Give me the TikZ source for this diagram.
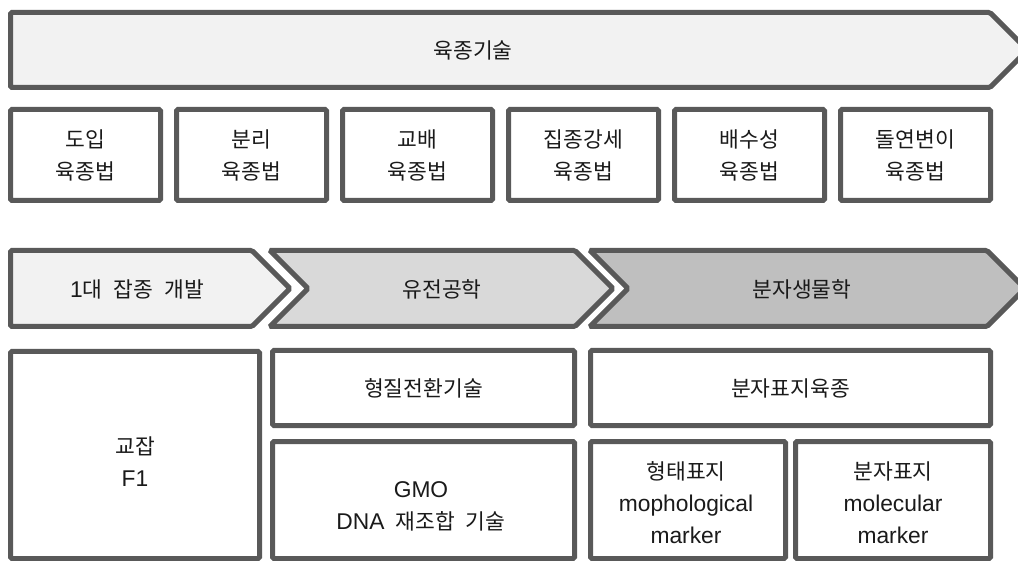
\documentclass[tikz,border=0pt]{standalone}
\usepackage{fontspec}
\setmainfont{Noto Sans CJK KR}
\newfontfamily\lat{Liberation Sans}[Scale=1.06]
\definecolor{edgegray}{HTML}{595959}
\definecolor{fillA}{HTML}{F2F2F2}
\definecolor{fillB}{HTML}{D9D9D9}
\definecolor{fillC}{HTML}{BFBFBF}
\definecolor{txtgray}{HTML}{1A1A1A}
\newcommand{\gap}{\hspace{11pt}}
\begin{document}
\begin{tikzpicture}[x=1pt,y=-1pt,
  outline/.style={draw=edgegray, line width=5pt, line join=miter, rounded corners=1.5pt},
  boxnode/.style={outline, fill=white, inner sep=0pt, text=txtgray, align=center,
    font=\fontsize{21.5}{32}\selectfont},
  txt/.style={text=txtgray, align=center, inner sep=0pt, font=\fontsize{21.5}{32}\selectfont}
]
\useasboundingbox (0,0) rectangle (1018,561);
\fill[white] (0,0) rectangle (1018,561);

% top arrow
\draw[outline, fill=fillA] (10.5,12.5) -- (990,12.5) -- (1027.5,50) -- (990,87.5) -- (10.5,87.5) -- cycle;
\node[txt] (top) at (473,50) {육종기술};

% row of methods
\node[boxnode, minimum width=150pt, minimum height=91pt] (m1) at (85.5,155) {도입\\육종법};
\node[boxnode, minimum width=150pt, minimum height=91pt] (m2) at (251.5,155) {분리\\육종법};
\node[boxnode, minimum width=150pt, minimum height=91pt] (m3) at (417.5,155) {교배\\육종법};
\node[boxnode, minimum width=150pt, minimum height=91pt] (m4) at (583.5,155) {집종강세\\육종법};
\node[boxnode, minimum width=150pt, minimum height=91pt] (m5) at (749.5,155) {배수성\\육종법};
\node[boxnode, minimum width=150pt, minimum height=91pt] (m6) at (915.5,155) {돌연변이\\육종법};

% chevrons
\draw[outline, fill=fillA] (10.5,250.5) -- (252,250.5) -- (290,288.5) -- (252,326.5) -- (10.5,326.5) -- cycle;
\node[txt] (c1) at (137,289) {{\lat 1}대\gap 잡종\gap 개발};
\draw[outline, fill=fillB] (270,250.5) -- (575,250.5) -- (613,288.5) -- (575,326.5) -- (270,326.5) -- (308,288.5) -- cycle;
\node[txt] (c2) at (442,289) {유전공학};
\draw[outline, fill=fillC] (590,250.5) -- (987,250.5) -- (1025,288.5) -- (987,326.5) -- (590,326.5) -- (628,288.5) -- cycle;
\node[txt] (c3) at (802,289) {분자생물학};

% bottom boxes
\node[boxnode, minimum width=249pt, minimum height=207pt] (b1) at (135,455) {};
\node[txt] (b1t) at (135,462) {교잡\\{\lat F1}};
\node[boxnode, minimum width=302pt, minimum height=75pt] (b2) at (423.5,388) {형질전환기술};
\node[boxnode, minimum width=302pt, minimum height=117pt] (b3) at (423.5,500) {};
\node[txt] (b3t) at (421,506) {{\lat GMO}\\{\lat DNA}\gap 재조합\gap 기술};
\node[boxnode, minimum width=400pt, minimum height=75pt] (b4) at (790.5,388) {분자표지육종};
\node[boxnode, minimum width=195pt, minimum height=117pt] (b5) at (688,500) {};
\node[txt] (b5t) at (686,503) {형태표지\\{\lat mophological}\\{\lat marker}};
\node[boxnode, minimum width=195pt, minimum height=117pt] (b6) at (893,500) {};
\node[txt] (b6t) at (893,503) {분자표지\\{\lat molecular}\\{\lat marker}};
\end{tikzpicture}
\end{document}
